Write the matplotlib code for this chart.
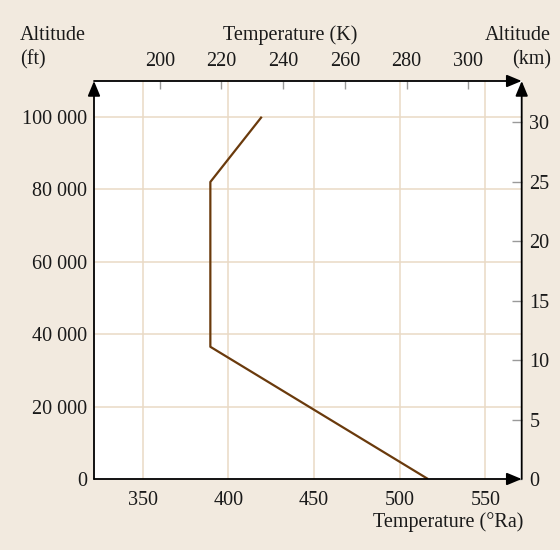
import matplotlib
matplotlib.use("Agg")
import matplotlib.pyplot as plt

# Data
altitude_ft = [0, 36500, 82000, 100000]
temp_ra = [516.5, 389.5, 389.5, 419.5]

ra_ticks = [350, 400, 450, 500, 550]
ft_ticks = [0, 20000, 40000, 60000, 80000, 100000]
ft_labels = ["0", "20 000", "40 000", "60 000", "80 000", "100 000"]
k_ticks = [200, 220, 240, 260, 280, 300]
km_ticks = [0, 5, 10, 15, 20, 25, 30]

BG = "#f2eadf"
GRID = "#eadac5"
LINE = "#6a3a0c"
TICKGRAY = "#9a9a9a"
FS = 14.5

plt.rcParams["font.family"] = ["Liberation Serif", "DejaVu Serif"]

fig = plt.figure(figsize=(5.6, 5.5), dpi=100, facecolor=BG)
W, H = 560, 550
x0, x1, y0, y1 = 94, 521.7, 479, 81
ax = fig.add_axes([x0 / W, 1 - y0 / H, (x1 - x0) / W, (y0 - y1) / H])
ax.set_facecolor("white")

ax.set_xlim(321.6, 571.2)
ax.set_ylim(0, 109870)

for v in ra_ticks:
    ax.axvline(v, color=GRID, lw=1.1, zorder=1)
for v in ft_ticks[1:]:
    ax.axhline(v, color=GRID, lw=1.1, zorder=1)

ax.plot(temp_ra, altitude_ft, color=LINE, lw=1.6, zorder=3, solid_capstyle="butt")

for s in ax.spines.values():
    s.set_visible(False)

ax.set_xticks(ra_ticks)
ax.set_xticklabels([str(v) for v in ra_ticks])
ax.set_yticks(ft_ticks)
ax.set_yticklabels(ft_labels)
ax.tick_params(axis="both", length=0, labelsize=FS, colors="#1a1a1a")
ax.tick_params(axis="x", pad=8.5)
ax.tick_params(axis="y", pad=5)

# secondary axes
sec_top = ax.secondary_xaxis("top", functions=(lambda r: r / 1.8, lambda k: k * 1.8))
sec_top.set_xticks(k_ticks)
sec_top.tick_params(direction="in", length=6, width=1, color=TICKGRAY,
                    labelsize=FS, labelcolor="#1a1a1a", pad=7.5)
for s in sec_top.spines.values():
    s.set_visible(False)

sec_right = ax.secondary_yaxis("right", functions=(lambda f: f * 0.0003048, lambda k: k / 0.0003048))
sec_right.set_yticks(km_ticks)
sec_right.tick_params(direction="in", length=7, width=1, color=TICKGRAY,
                      labelsize=FS, labelcolor="#1a1a1a", pad=5.5)
for s in sec_right.spines.values():
    s.set_visible(False)

# axis arrows
def arrow(p0, p1):
    ax.annotate("", xy=p1, xytext=p0, xycoords="axes fraction", textcoords="axes fraction",
                arrowprops=dict(arrowstyle="-|>,head_length=0.6,head_width=0.25",
                                color="black", lw=1.3, mutation_scale=15,
                                shrinkA=0, shrinkB=0),
                annotation_clip=False, zorder=5)

arrow((0, 0), (1, 0))
arrow((0, 0), (0, 1))
arrow((0, 1), (1, 1))
arrow((1, 0), (1, 1))

# titles
tc = "#1a1a1a"
fig.text(20 / W, 1 - 35 / H, "Altitude", fontsize=FS, ha="left", va="center", color=tc)
fig.text(20 / W, 1 - 60 / H, "(ft)", fontsize=FS, ha="left", va="center", color=tc)
fig.text(290 / W, 1 - 35 / H, "Temperature (K)", fontsize=FS, ha="center", va="center", color=tc)
fig.text(551 / W, 1 - 35 / H, "Altitude", fontsize=FS, ha="right", va="center", color=tc)
fig.text(551 / W, 1 - 60 / H, "(km)", fontsize=FS, ha="right", va="center", color=tc)
fig.text(523 / W, 1 - 522 / H, "Temperature (°Ra)", fontsize=FS, ha="right", va="center", color=tc)

fig.savefig("out.png", dpi=100, facecolor=BG)
